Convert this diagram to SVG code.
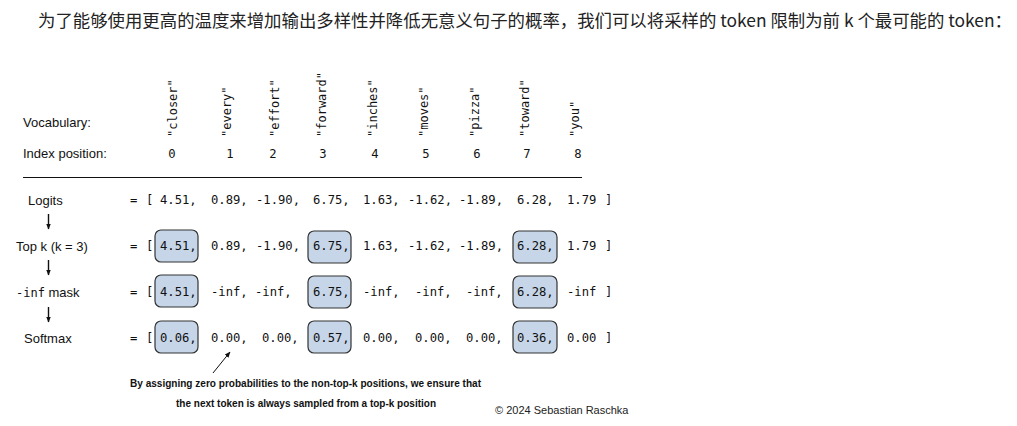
<svg xmlns="http://www.w3.org/2000/svg" width="1017" height="426" viewBox="0 0 1017 426">
<style>
.title{font-family:"Noto Sans CJK SC","Noto Sans",sans-serif;font-size:17px;fill:#222}
.lab{font-family:"Liberation Sans",Arial,sans-serif;font-size:13px;fill:#111}
.mono{font-family:"DejaVu Sans Mono","Liberation Mono",monospace;font-size:12.2px;fill:#111}
.rot{font-family:"DejaVu Sans Mono","Liberation Mono",monospace;font-size:12px;fill:#111}
.box{fill:#c6d6e8;stroke:#333;stroke-width:1.2}
.note{font-family:"Liberation Sans",Arial,sans-serif;font-size:11px;font-weight:bold;fill:#111}
.copy{font-family:"Liberation Sans",Arial,sans-serif;font-size:11px;fill:#222}
.ln{stroke:#111;stroke-width:1;fill:none}
.arr{stroke:#111;stroke-width:1.4;fill:none}
</style>
<defs>
<marker id="ah" viewBox="0 0 10 10" refX="9" refY="5" markerWidth="6" markerHeight="6" orient="auto" markerUnits="userSpaceOnUse">
<path d="M0,1 L10,5 L0,9 z" fill="#111"/>
</marker>
</defs>
<rect width="1017" height="426" fill="#fff"/>
<text class="title" x="38" y="27" textLength="974" lengthAdjust="spacingAndGlyphs">为了能够使用更高的温度来增加输出多样性并降低无意义句子的概率，我们可以将采样的 token 限制为前 k 个最可能的 token：</text>

<g id="header">
<text class="lab" x="23" y="127">Vocabulary:</text>
<text class="lab" x="23" y="158">Index position:</text>
<g class="rot">
<text transform="translate(177,137) rotate(-90)">"closer"</text>
<text transform="translate(231,137) rotate(-90)">"every"</text>
<text transform="translate(279,137) rotate(-90)">"effort"</text>
<text transform="translate(326,137) rotate(-90)">"forward"</text>
<text transform="translate(377,137) rotate(-90)">"inches"</text>
<text transform="translate(428,137) rotate(-90)">"moves"</text>
<text transform="translate(479,137) rotate(-90)">"pizza"</text>
<text transform="translate(529,137) rotate(-90)">"toward"</text>
<text transform="translate(579,137) rotate(-90)">"you"</text>
</g>
<g class="mono" text-anchor="middle">
<text x="172" y="158">0</text>
<text x="230" y="158">1</text>
<text x="273" y="158">2</text>
<text x="323" y="158">3</text>
<text x="375" y="158">4</text>
<text x="426" y="158">5</text>
<text x="477" y="158">6</text>
<text x="527" y="158">7</text>
<text x="578" y="158">8</text>
</g>
<line class="ln" x1="23" y1="177.5" x2="582" y2="177.5"/>
</g>

<g id="labels">
<text class="lab" x="28" y="205">Logits</text>
<text class="lab" x="16" y="251">Top k (k = 3)</text>
<text class="lab" x="16" y="297"><tspan font-family="DejaVu Sans Mono, monospace" font-size="12">-inf</tspan> mask</text>
<text class="lab" x="24" y="343">Softmax</text>
</g>

<g id="connectors">
<line class="arr" x1="48.5" y1="214" x2="48.5" y2="229" marker-end="url(#ah)"/>
<line class="arr" x1="48.5" y1="260" x2="48.5" y2="275" marker-end="url(#ah)"/>
<line class="arr" x1="48.5" y1="307" x2="48.5" y2="322" marker-end="url(#ah)"/>
<line class="ln" x1="213" y1="373" x2="230" y2="352" marker-end="url(#ah)"/>
</g>

<g id="row-logits" class="mono">
<text x="130" y="204">=</text><text x="146" y="204">[</text>
<text x="160" y="204">4.51,</text>
<text x="211" y="204">0.89,</text>
<text x="256" y="204">-1.90,</text>
<text x="313" y="204">6.75,</text>
<text x="363" y="204">1.63,</text>
<text x="408" y="204">-1.62,</text>
<text x="459" y="204">-1.89,</text>
<text x="517" y="204">6.28,</text>
<text x="567" y="204">1.79</text>
<text x="605" y="204">]</text>
</g>

<g id="row-topk">
<rect class="box" x="155" y="230" width="43" height="32" rx="6"/>
<rect class="box" x="308" y="231" width="43" height="32" rx="6"/>
<rect class="box" x="513" y="231" width="44" height="32" rx="6"/>
<g class="mono">
<text x="130" y="250">=</text><text x="146" y="250">[</text>
<text x="160" y="250">4.51,</text>
<text x="211" y="250">0.89,</text>
<text x="256" y="250">-1.90,</text>
<text x="313" y="250">6.75,</text>
<text x="363" y="250">1.63,</text>
<text x="408" y="250">-1.62,</text>
<text x="459" y="250">-1.89,</text>
<text x="517" y="250">6.28,</text>
<text x="567" y="250">1.79</text>
<text x="605" y="250">]</text>
</g>
</g>

<g id="row-mask">
<rect class="box" x="155" y="275" width="43" height="32" rx="6"/>
<rect class="box" x="308" y="276" width="43" height="32" rx="6"/>
<rect class="box" x="513" y="276" width="44" height="32" rx="6"/>
<g class="mono">
<text x="130" y="296">=</text><text x="146" y="296">[</text>
<text x="160" y="296">4.51,</text>
<text x="211" y="296">-inf,</text>
<text x="255" y="296">-inf,</text>
<text x="313" y="296">6.75,</text>
<text x="363" y="296">-inf,</text>
<text x="415" y="296">-inf,</text>
<text x="466" y="296">-inf,</text>
<text x="517" y="296">6.28,</text>
<text x="567" y="296">-inf</text>
<text x="605" y="296">]</text>
</g>
</g>

<g id="row-softmax">
<rect class="box" x="155" y="321" width="43" height="32" rx="6"/>
<rect class="box" x="308" y="321" width="43" height="32" rx="6"/>
<rect class="box" x="513" y="321" width="44" height="32" rx="6"/>
<g class="mono">
<text x="130" y="342">=</text><text x="146" y="342">[</text>
<text x="160" y="342">0.06,</text>
<text x="211" y="342">0.00,</text>
<text x="262" y="342">0.00,</text>
<text x="313" y="342">0.57,</text>
<text x="363" y="342">0.00,</text>
<text x="415" y="342">0.00,</text>
<text x="466" y="342">0.00,</text>
<text x="517" y="342">0.36,</text>
<text x="567" y="342">0.00</text>
<text x="605" y="342">]</text>
</g>
</g>

<g id="note">
<text class="note" x="130" y="387" textLength="351" lengthAdjust="spacingAndGlyphs">By assigning zero probabilities to the non-top-k positions, we ensure that</text>
<text class="note" x="176" y="407" textLength="260" lengthAdjust="spacingAndGlyphs">the next token is always sampled from a top-k position</text>
</g>
<text class="copy" x="495" y="414">© 2024 Sebastian Raschka</text>
</svg>
